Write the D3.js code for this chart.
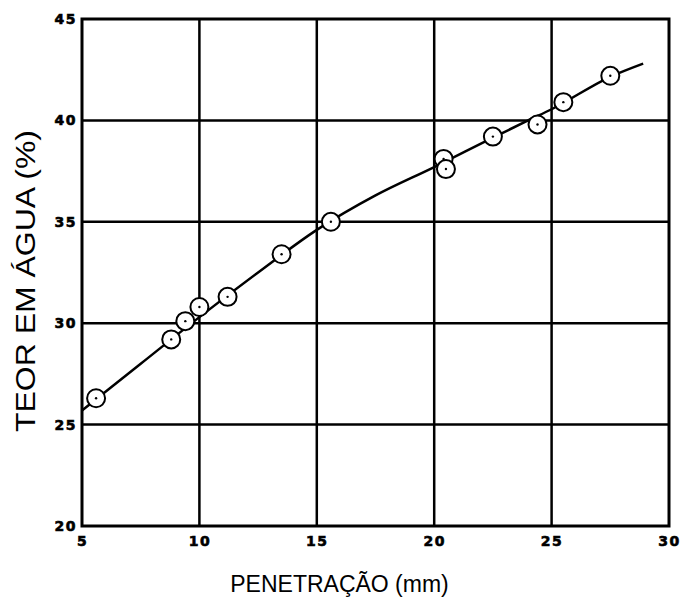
<!DOCTYPE html>
<html>
<head>
<meta charset="utf-8">
<script src="https://cdn.jsdelivr.net/npm/d3@7"></script>
<style>
  body { margin: 0; background: #fff; }
  svg { display: block; }
</style>
</head>
<body>
<div id="chart"></div>
<script>
// Measured points (penetration mm, water content %)
const penetration = [5.6, 8.8, 9.4, 10.0, 11.2, 13.5, 15.6, 20.4, 20.5, 22.5, 24.4, 25.5, 27.5];
const waterContent = [26.3, 29.2, 30.1, 30.8, 31.3, 33.4, 35.0, 38.1, 37.6, 39.2, 39.8, 40.9, 42.2];

// Fitted curve
const curveX = [5.0, 7.5, 10.0, 12.5, 15.0, 17.5, 20.0, 22.5, 24.0, 25.0, 27.5, 28.9];
const curveY = [25.7, 28.0, 30.3, 32.5, 34.6, 36.3, 37.7, 39.15, 40.0, 40.55, 42.15, 42.8];

const xTicks = [5, 10, 15, 20, 25, 30];
const yTicks = [20, 25, 30, 35, 40, 45];

const width = 684;
const height = 601;
const margin = { top: 19, right: 15, bottom: 75, left: 82 };

const svg = d3.select("#chart").append("svg")
  .attr("width", width)
  .attr("height", height);

const x = d3.scaleLinear().domain([5, 30]).range([margin.left, width - margin.right]);
const y = d3.scaleLinear().domain([20, 45]).range([height - margin.bottom, margin.top]);

// Grid lines
const grid = svg.append("g").attr("stroke", "#000").attr("stroke-width", 2.5);
grid.selectAll(".vx")
  .data(xTicks.slice(1, -1))
  .join("line")
  .attr("x1", (d) => x(d)).attr("x2", (d) => x(d))
  .attr("y1", y(20)).attr("y2", y(45));
grid.selectAll(".hy")
  .data(yTicks.slice(1, -1))
  .join("line")
  .attr("y1", (d) => y(d)).attr("y2", (d) => y(d))
  .attr("x1", x(5)).attr("x2", x(30));

// Frame
svg.append("rect")
  .attr("x", x(5)).attr("y", y(45))
  .attr("width", x(30) - x(5)).attr("height", y(20) - y(45))
  .attr("fill", "none").attr("stroke", "#000").attr("stroke-width", 3);

// Axes (labels only)
const xAxis = svg.append("g")
  .attr("transform", `translate(0,${y(20)})`)
  .call(d3.axisBottom(x).tickValues(xTicks).tickSize(0).tickPadding(10));
const yAxis = svg.append("g")
  .attr("transform", `translate(${x(5)},0)`)
  .call(d3.axisLeft(y).tickValues(yTicks).tickSize(0).tickPadding(5));
[xAxis, yAxis].forEach((g) => {
  g.select(".domain").remove();
  g.selectAll("text")
    .attr("font-family", "'DejaVu Sans', sans-serif")
    .attr("font-weight", "bold")
    .attr("font-size", 14)
    .attr("letter-spacing", 1.5)
    .attr("stroke", "#000")
    .attr("stroke-width", 0.6)
    .attr("fill", "#000");
});

// Fitted curve
const curveData = curveX.map((d, i) => [d, curveY[i]]);
svg.append("path")
  .datum(curveData)
  .attr("fill", "none")
  .attr("stroke", "#000")
  .attr("stroke-width", 2.5)
  .attr("d", d3.line().x((d) => x(d[0])).y((d) => y(d[1])).curve(d3.curveMonotoneX));

// Points
const pts = penetration.map((d, i) => ({ px: d, wc: waterContent[i] }));
const pg = svg.append("g");
pg.selectAll("circle.mark")
  .data(pts)
  .join("circle")
  .attr("class", "mark")
  .attr("cx", (d) => x(d.px))
  .attr("cy", (d) => y(d.wc))
  .attr("r", 9)
  .attr("fill", "#fff")
  .attr("stroke", "#000")
  .attr("stroke-width", 2);
pg.selectAll("circle.dot")
  .data(pts)
  .join("circle")
  .attr("class", "dot")
  .attr("cx", (d) => x(d.px))
  .attr("cy", (d) => y(d.wc))
  .attr("r", 1.2)
  .attr("fill", "#000");

// Axis titles
svg.append("text")
  .attr("x", (x(5) + x(30)) / 2 - 36)
  .attr("y", 592)
  .attr("text-anchor", "middle")
  .attr("font-family", "'Liberation Sans', Arial, sans-serif")
  .attr("font-size", 23)
  .text("PENETRAÇÃO (mm)");

svg.append("text")
  .attr("transform", "translate(35,281) rotate(-90)")
  .attr("text-anchor", "middle")
  .attr("font-family", "'Liberation Sans', Arial, sans-serif")
  .attr("font-size", 27)
  .attr("textLength", 302)
  .attr("lengthAdjust", "spacingAndGlyphs")
  .text("TEOR EM ÁGUA (%)");
</script>
</body>
</html>
